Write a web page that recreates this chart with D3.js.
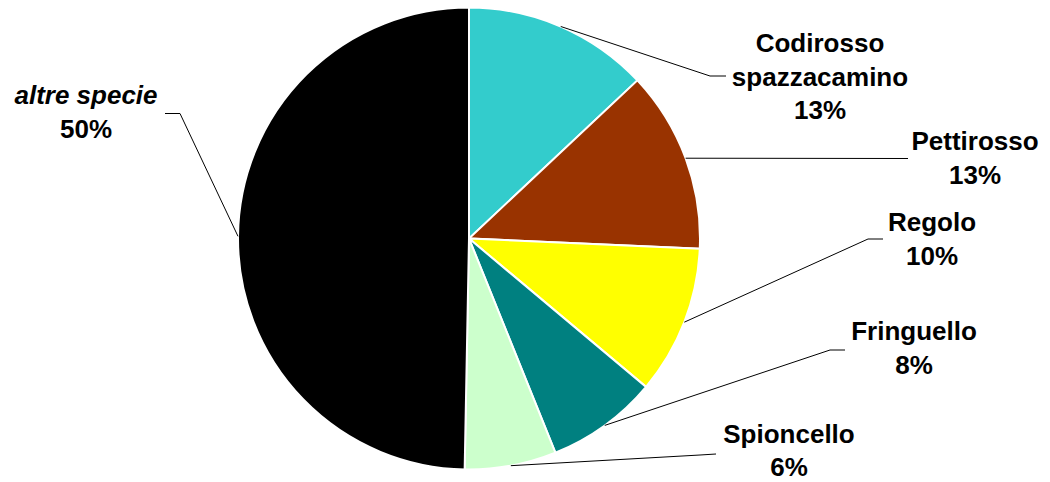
<!DOCTYPE html>
<html>
<head>
<meta charset="utf-8">
<script src="https://cdn.jsdelivr.net/npm/d3@7/dist/d3.min.js"></script>
<style>
  html, body { margin: 0; padding: 0; background: #ffffff; }
  svg { display: block; }
  text { font-family: "Liberation Sans", Arial, sans-serif; font-weight: bold; fill: #000; }
</style>
</head>
<body>
<svg id="chart" width="1050" height="482"></svg>
<script>
// ---- data ----
const categories = ["Codirosso spazzacamino", "Pettirosso", "Regolo", "Fringuello", "Spioncello", "altre specie"];
const values = [13.0, 12.7, 10.4, 7.8, 6.4, 49.7];
const percentLabels = ["13%", "13%", "10%", "8%", "6%", "50%"];
const labelLines = [["Codirosso", "spazzacamino"], ["Pettirosso"], ["Regolo"], ["Fringuello"], ["Spioncello"], ["altre specie"]];
const colors = ["#33CCCC", "#993300", "#FFFF00", "#008080", "#CCFFCC", "#000000"];

// ---- layout (positions only) ----
const W = 1050, H = 482;
const cx = 469, cy = 238.5, R = 231;
const fontSize = 26, lineGap = 33.5;
// label centre x, first baseline y, leader elbow point, leader end point, optional own line gap
const labelLayout = [
  { x: 820, y: 52,  elbow: [710, 76],  end: [726, 76] },
  { x: 975, y: 150, elbow: [908, 158.5], end: [908, 158.5] },
  { x: 932, y: 231, elbow: [868, 239], end: [883, 239] },
  { x: 914, y: 340, elbow: [830, 350], end: [845, 350] },
  { x: 789, y: 443, elbow: [700, 455], end: [716, 454], gap: 32.5 },
  { x: 86,  y: 104, elbow: [180, 113.5], end: [165, 113.5], italic: true }
];

const svg = d3.select("#chart");
const g = svg.append("g").attr("transform", `translate(${cx},${cy})`);

const pie = d3.pie().sort(null).value(d => d.v);
const data = categories.map((c, i) => ({ name: c, v: values[i], i }));
const arcs = pie(data);
const arc = d3.arc().innerRadius(0).outerRadius(R);

g.selectAll("path.slice")
  .data(arcs)
  .join("path")
  .attr("class", "slice")
  .attr("d", arc)
  .attr("fill", d => colors[d.data.i])
  .attr("stroke", "#ffffff")
  .attr("stroke-width", 2)
  .attr("stroke-linejoin", "miter");

// leader lines: start on the outer edge at each slice's mid angle
const lines = svg.append("g");
arcs.forEach((a, i) => {
  const mid = (a.startAngle + a.endAngle) / 2;
  const sx = cx + R * Math.sin(mid);
  const sy = cy - R * Math.cos(mid);
  const L = labelLayout[i];
  const pts = [[sx, sy], L.elbow, L.end];
  lines.append("path")
    .attr("d", d3.line()(pts))
    .attr("fill", "none")
    .attr("stroke", "#000")
    .attr("stroke-width", 1);
});

// labels
const labels = svg.append("g");
arcs.forEach((a, i) => {
  const L = labelLayout[i];
  const gap = L.gap || lineGap;
  const t = labels.append("text")
    .attr("text-anchor", "middle")
    .attr("font-size", fontSize)
    .attr("x", L.x)
    .attr("y", L.y);
  const ls = labelLines[i];
  ls.forEach((s, k) => {
    t.append("tspan")
      .attr("x", L.x)
      .attr("y", L.y + k * gap)
      .attr("font-style", L.italic ? "italic" : "normal")
      .text(s);
  });
  t.append("tspan")
    .attr("x", L.x)
    .attr("y", L.y + ls.length * gap)
    .text(percentLabels[i]);
});
</script>
</body>
</html>
